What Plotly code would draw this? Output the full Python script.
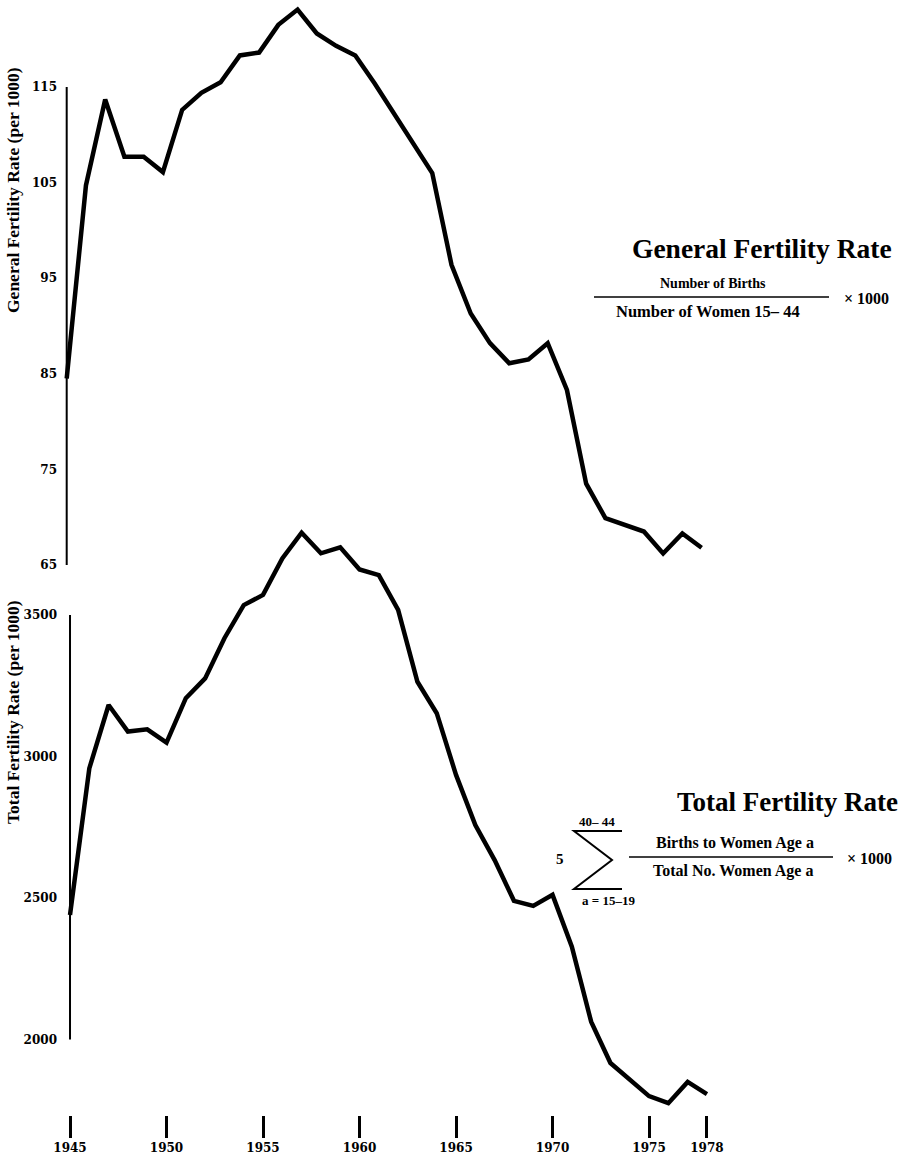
import plotly.graph_objects as go

# ---------------- data ----------------
years = list(range(1945, 1979))
gfr = [84.5, 104.7, 113.7, 107.7, 107.7, 106.1, 112.6, 114.4, 115.5, 118.3,
       118.6, 121.5, 123.1, 120.6, 119.3, 118.3, 115.4, 112.2, 109.0, 106.0,
       96.4, 91.3, 88.2, 86.1, 86.5, 88.2, 83.3, 73.5, 69.9, 69.2,
       68.5, 66.2, 68.3, 66.8]
tfr = [2440, 2958, 3182, 3088, 3096, 3049, 3206, 3276, 3418, 3535,
       3571, 3700, 3791, 3718, 3739, 3661, 3641, 3518, 3264, 3153,
       2935, 2758, 2634, 2490, 2472, 2511, 2328, 2063, 1917, 1857,
       1800, 1775, 1850, 1807]
gfr_ticks = [65, 75, 85, 95, 105, 115]
tfr_ticks = [2000, 2500, 3000, 3500]
year_ticks = [1945, 1950, 1955, 1960, 1965, 1970, 1975, 1978]

# ---------------- layout helpers ----------------
W, H = 909, 1158
L, R, T, B = 58, 10, 0, 43
PW, PH = W - L - R, H - T - B


def px(x):
    return (x - L) / PW


def py(y):
    return (PH - (y - T)) / PH


SERIF = "Liberation Serif, Times New Roman, serif"
NUMF = "DejaVu Serif, serif"
INK = "black"

fig = go.Figure()
fig.add_trace(go.Scatter(x=years, y=gfr, mode="lines", xaxis="x", yaxis="y",
                         line=dict(color=INK, width=4.5), hoverinfo="skip",
                         showlegend=False))
fig.add_trace(go.Scatter(x=years, y=tfr, mode="lines", xaxis="x2", yaxis="y2",
                         line=dict(color=INK, width=4.5), hoverinfo="skip",
                         showlegend=False))

tickfont = dict(family=NUMF, size=12, color=INK, weight="bold")

fig.update_layout(
    width=W, height=H, autosize=False,
    margin=dict(l=L, r=R, t=T, b=B, pad=0),
    paper_bgcolor="white", plot_bgcolor="rgba(0,0,0,0)",
    showlegend=False,
    xaxis=dict(domain=[0, 1], range=[1944.548, 1988.26], visible=False,
               anchor="y"),
    yaxis=dict(domain=[py(590), 1], range=[62.38, 124.10], anchor="x",
               tickvals=gfr_ticks, ticktext=[str(v) for v in gfr_ticks],
               showgrid=False, zeroline=False, showline=False, ticks="",
               tickfont=tickfont),
    xaxis2=dict(domain=[0, 1], range=[1944.378, 1987.95], anchor="y2",
                tickvals=year_ticks, ticktext=[str(v) for v in year_ticks],
                showgrid=False, zeroline=False, showline=False,
                ticks="outside", ticklen=22, tickwidth=3, tickcolor=INK,
                tickfont=tickfont),
    yaxis2=dict(domain=[0, py(520)], range=[1733.2, 3835.7], anchor="x2",
                tickvals=tfr_ticks, ticktext=[str(v) for v in tfr_ticks],
                showgrid=False, zeroline=False, showline=False, ticks="",
                tickfont=tickfont),
)

# vertical axis lines spanning only the labelled ranges
fig.add_shape(type="line", xref="x", yref="y", x0=years[0], x1=years[0],
              y0=gfr_ticks[0], y1=gfr_ticks[-1], line=dict(color=INK, width=2))
fig.add_shape(type="line", xref="x2", yref="y2", x0=years[0], x1=years[0],
              y0=tfr_ticks[0], y1=tfr_ticks[-1], line=dict(color=INK, width=2))


def note(text, x, y, size, angle=0):
    fig.add_annotation(text=text, xref="paper", yref="paper", x=px(x), y=py(y),
                       xanchor="center", yanchor="middle", showarrow=False,
                       textangle=angle,
                       font=dict(family=SERIF, size=size, color=INK,
                                 weight="bold"))


def hline(x0, x1, y, w=1.5):
    fig.add_shape(type="line", xref="paper", yref="paper", x0=px(x0),
                  x1=px(x1), y0=py(y), y1=py(y), line=dict(color=INK, width=w))


# axis titles
note("General Fertility Rate (per 1000)", 13, 190, 17.5, -90)
note("Total Fertility Rate (per 1000)", 13, 712, 17.5, -90)

# General fertility rate block
note("General Fertility Rate", 762, 248, 27.5)
note("Number of Births", 713, 283, 14)
hline(594, 829, 297)
note("Number of Women\u00a015\u2013\u00a044", 708, 311, 16.5)
note("\u00d7 1000", 866, 298, 16)

# Total fertility rate block
note("Total Fertility Rate", 787, 802, 27)
note("40\u2013 44", 597, 821, 13)
fig.add_shape(type="path", xref="paper", yref="paper",
              path=(f"M {px(622)} {py(831)} L {px(574)} {py(831)} "
                    f"L {px(612)} {py(860)} L {px(574)} {py(889)} "
                    f"L {px(622)} {py(889)}"),
              line=dict(color=INK, width=2))
note("5", 560, 859, 15)
note("a = 15\u201319", 608, 900, 13)
note("Births to Women Age a", 735, 843, 16)
hline(629, 833, 857)
note("Total No. Women Age a", 733, 871, 16)
note("\u00d7 1000", 869, 858, 16)

fig.write_html("out.html", config={"displayModeBar": False},
               post_script="document.body.style.margin='0';")
